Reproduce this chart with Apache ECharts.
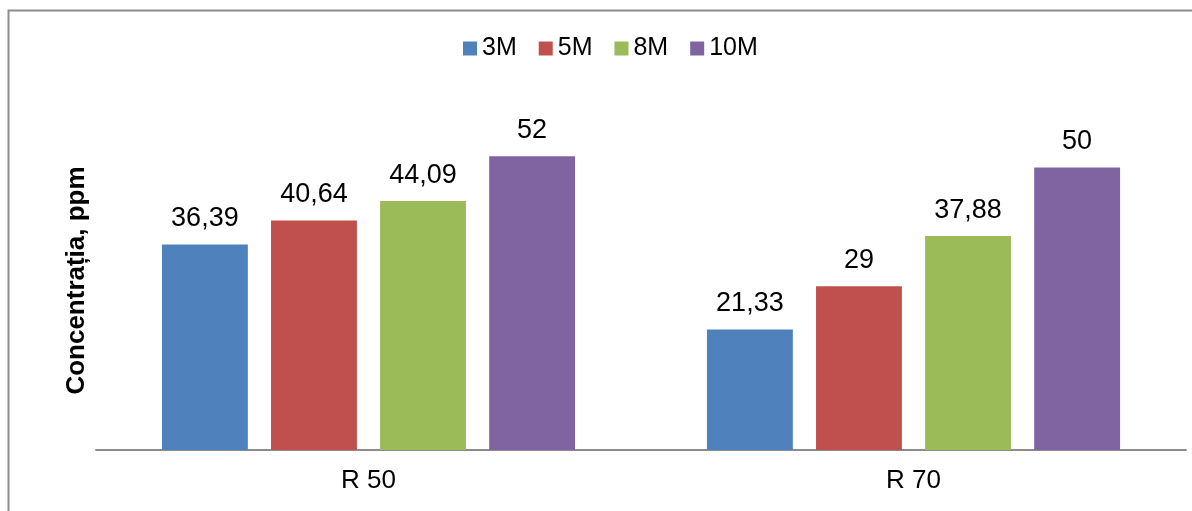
<!DOCTYPE html>
<html><head><meta charset="utf-8">
<script src="https://cdn.jsdelivr.net/npm/echarts@6/dist/echarts.min.js"></script>
<style>html,body{margin:0;padding:0;background:#fff}#c{width:1192px;height:511px}</style>
</head><body><div id="c"></div>
<script>
const categories = ['R 50', 'R 70'];
const seriesNames = ['3M', '5M', '8M', '10M'];
const values3M = [36.39, 21.33];
const values5M = [40.64, 29];
const values8M = [44.09, 37.88];
const values10M = [52, 50];
const colors = ['#4F81BD', '#C0504D', '#9BBB59', '#8064A2'];
const allValues = [values3M, values5M, values8M, values10M];
const font = 'Liberation Sans, Arial, sans-serif';

const chart = echarts.init(document.getElementById('c'));
chart.setOption({
  animation: false,
  textStyle: { fontFamily: font },
  graphic: [{
    type: 'rect', z: -1,
    shape: { x: 8.5, y: 10.5, width: 1200, height: 600 },
    style: { fill: 'none', stroke: '#8c8c8c', lineWidth: 2 }
  }],
  legend: {
    top: 31, left: 458,
    itemWidth: 14, itemHeight: 14, itemGap: 22,
    icon: 'rect',
    textStyle: { fontSize: 25, color: '#000', fontFamily: font },
    data: seriesNames
  },
  grid: { left: 96, right: 6, top: 111, bottom: 61 },
  xAxis: {
    type: 'category', data: categories,
    axisLine: { lineStyle: { color: '#8c8c8c', width: 2 } },
    axisTick: { show: false },
    axisLabel: { fontSize: 26, color: '#000', margin: 18, fontFamily: font }
  },
  yAxis: {
    type: 'value', min: 0, max: 60,
    name: 'Concentrația, ppm', nameLocation: 'middle', nameGap: 6,
    nameTextStyle: { fontSize: 26, fontWeight: 'bold', color: '#000', fontFamily: font },
    axisLine: { show: false }, axisTick: { show: false },
    axisLabel: { show: false }, splitLine: { show: false }
  },
  series: seriesNames.map((n, i) => ({
    name: n, type: 'bar', data: allValues[i],
    itemStyle: { color: colors[i] },
    barCategoryGap: '24.2%', barGap: '27%',
    label: {
      show: true, position: 'top', distance: 12,
      fontSize: 27, color: '#000', fontFamily: font,
      formatter: p => String(p.value).replace('.', ',')
    }
  }))
});
</script></body></html>
